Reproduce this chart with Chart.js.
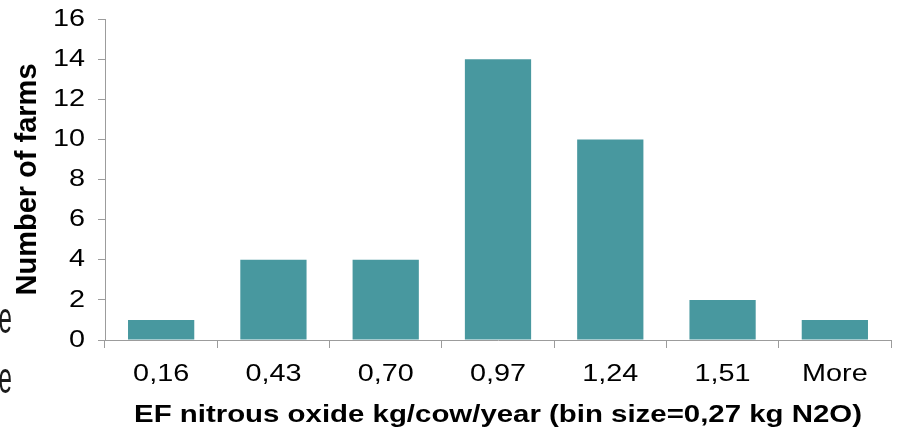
<!DOCTYPE html>
<html>
<head>
<meta charset="utf-8">
<style>
  html, body { margin: 0; padding: 0; background: #ffffff; }
  canvas { display: block; }
</style>
<script src="https://cdn.jsdelivr.net/npm/chart.js@4.4.1/dist/chart.umd.min.js"></script>
</head>
<body>
<canvas id="chart" width="897" height="434" style="width:897px;height:434px"></canvas>
<script>
// Histogram bins (upper edges) and farm counts
const binLabels = ['0,16', '0,43', '0,70', '0,97', '1,24', '1,51', 'More'];
const farmCounts = [1, 4, 4, 14, 10, 2, 1];
const yTickValues = [0, 2, 4, 6, 8, 10, 12, 14, 16];

const xTitle = 'EF nitrous oxide kg/cow/year (bin size=0,27 kg N2O)';
const yTitle = 'Number of farms';

const FONT = "'Liberation Sans', Arial, Helvetica, sans-serif";
const AXIS_GREY = '#9c9c9c';
const BAR_TEAL = '#48989f';
const TEXT_STRETCH = 1.2; // horizontal text is drawn slightly expanded

const canvas = document.getElementById('chart');
const ctx = canvas.getContext('2d');

// Expand horizontal text around its anchor point; rotated text is left as is.
const baseFillText = ctx.fillText.bind(ctx);
ctx.fillText = function (text, x, y, maxWidth) {
  const m = this.getTransform();
  if (m.b !== 0 || m.c !== 0) {
    return maxWidth === undefined ? baseFillText(text, x, y) : baseFillText(text, x, y, maxWidth);
  }
  this.save();
  this.translate(x, y);
  this.scale(TEXT_STRETCH, 1);
  if (maxWidth === undefined) baseFillText(text, 0, 0);
  else baseFillText(text, 0, 0, maxWidth / TEXT_STRETCH);
  this.restore();
};

// Trailing letters of neighbouring text at the left edge (narrow face)
const edgeLetters = {
  id: 'edgeLetters',
  afterDraw(chart) {
    const c = chart.ctx;
    c.save();
    c.fillStyle = '#1a1a1a';
    c.font = '44px ' + FONT;
    c.textAlign = 'right';
    c.textBaseline = 'alphabetic';
    [333, 393].forEach(baseY => {
      c.setTransform(0.55, 0, 0, 1, 12, baseY);
      baseFillText('e', 0, 0);
    });
    c.restore();
  }
};

new Chart(ctx, {
  type: 'bar',
  data: {
    labels: binLabels,
    datasets: [{
      data: farmCounts,
      backgroundColor: BAR_TEAL,
      borderWidth: 0,
      barPercentage: 0.59,
      categoryPercentage: 1.0
    }]
  },
  options: {
    responsive: false,
    animation: false,
    devicePixelRatio: 1,
    layout: { padding: { left: 0, right: 6, top: 19, bottom: 0 } },
    plugins: {
      legend: { display: false },
      tooltip: { enabled: false },
      title: { display: false }
    },
    scales: {
      x: {
        offset: true,
        grid: {
          offset: true,
          drawOnChartArea: false,
          drawTicks: true,
          tickLength: 8,
          color: AXIS_GREY,
          lineWidth: 1
        },
        border: { display: true, color: AXIS_GREY, width: 1 },
        ticks: {
          color: '#000000',
          font: { family: FONT, size: 24 },
          padding: 12,
          maxRotation: 0,
          minRotation: 0,
          autoSkip: false
        },
        title: {
          display: true,
          text: xTitle,
          color: '#000000',
          font: { family: FONT, size: 24.5, weight: 'bold' },
          padding: { top: 0, bottom: 4 }
        },
        afterFit(scale) {
          scale.height = 94;
          scale.paddingLeft = 0;
          scale.paddingRight = 0;
        }
      },
      y: {
        min: 0,
        max: 16,
        afterBuildTicks(scale) {
          scale.ticks = yTickValues.map(v => ({ value: v }));
        },
        grid: {
          drawOnChartArea: false,
          drawTicks: true,
          tickLength: 7,
          color: AXIS_GREY,
          lineWidth: 1
        },
        border: { display: true, color: AXIS_GREY, width: 1 },
        ticks: {
          color: '#000000',
          font: { family: FONT, size: 24 },
          padding: 13
        },
        title: {
          display: true,
          text: yTitle,
          color: '#000000',
          font: { family: FONT, size: 29, weight: 'bold' },
          padding: { top: 11, bottom: 0 }
        },
        afterFit(scale) {
          scale.width = 105;
          scale.paddingTop = 0;
          scale.paddingBottom = 0;
        }
      }
    }
  },
  plugins: [edgeLetters]
});
</script>
</body>
</html>
